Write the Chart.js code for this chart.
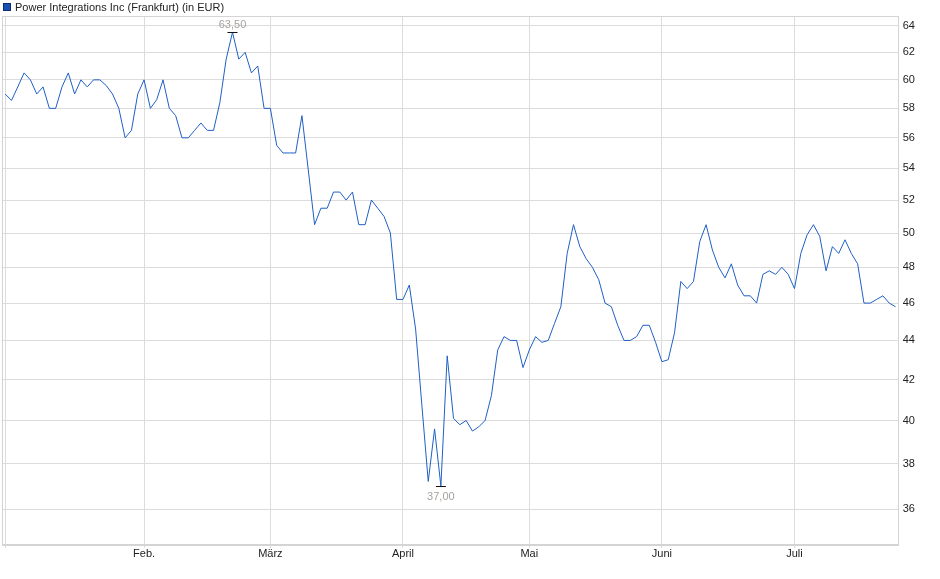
<!DOCTYPE html>
<html>
<head>
<meta charset="utf-8">
<title>Power Integrations Inc (Frankfurt)</title>
<script src="https://cdn.jsdelivr.net/npm/chart.js@4.4.1/dist/chart.umd.min.js"></script>
<style>
  html, body { margin: 0; padding: 0; background: #fff; }
  #wrap { position: relative; width: 940px; height: 579px; }
  #legend {
    position: absolute; left: 3px; top: 0; height: 13px;
    font: 11px "Liberation Sans", Arial, sans-serif; color: #222;
    display: flex; align-items: center; white-space: nowrap;
  }
  #legend .box {
    width: 6px; height: 6px; background: #1c50b0; border: 1px solid #0d2f70;
    margin-right: 4px;
  }
</style>
</head>
<body>
<div id="wrap">
  <div id="legend"><span class="box"></span>Power Integrations Inc (Frankfurt) (in EUR)</div>
  <canvas id="chart" width="940" height="579"></canvas>
</div>
<script>
// ── Closing prices, one per Frankfurt trading day (2 Jan – 23 Jul) ───────────
const PRICES = [
  59.0, 58.55, 59.5, 60.5, 60.0, 59.0, 59.5, 58.0, 58.0, 59.5,
  60.5, 59.0, 60.0, 59.5, 60.0, 60.0, 59.6, 59.0, 58.0, 56.0,
  56.5, 59.0, 60.0, 58.0, 58.6, 60.0, 58.0, 57.5, 56.0, 56.0,
  56.5, 57.0, 56.5, 56.5, 58.4, 61.5, 63.5, 61.5, 62.0, 60.5,
  61.0, 58.0, 58.0, 55.5, 55.0, 55.0, 55.0, 57.5, 53.9, 50.5,
  51.5, 51.5, 52.5, 52.5, 52.0, 52.5, 50.5, 50.5, 52.0, 51.5,
  51.0, 50.0, 46.2, 46.2, 47.0, 44.6, 40.7, 37.2, 39.6, 37.0,
  43.2, 40.1, 39.8, 40.0, 39.5, 39.7, 40.0, 41.2, 43.5, 44.2,
  44.0, 44.0, 42.6, 43.5, 44.2, 43.9, 44.0, 44.9, 45.8, 48.8,
  50.5, 49.2, 48.5, 48.0, 47.3, 46.0, 45.8, 44.8, 44.0, 44.0,
  44.2, 44.8, 44.8, 43.9, 42.9, 43.0, 44.4, 47.2, 46.8, 47.2,
  49.5, 50.5, 49.0, 48.0, 47.4, 48.2, 47.0, 46.4, 46.4, 46.0,
  47.6, 47.8, 47.6, 48.0, 47.6, 46.8, 48.8, 49.9, 50.5, 49.8,
  47.8, 49.2, 48.8, 49.6, 48.8, 48.2, 46.0, 46.0, 46.2, 46.4,
  46.0, 45.8,
];

// ── Axis ticks ───────────────────────────────────────────────────────────────
const MONTH_TICKS  = [0, 22, 42, 63, 83, 104, 125];   // first trading day of month
const MONTH_LABELS = ['', 'Feb.', 'März', 'April', 'Mai', 'Juni', 'Juli'];
const PRICE_TICKS  = [36, 38, 40, 42, 44, 46, 48, 50, 52, 54, 56, 58, 60, 62, 64];

const FONT = "'Liberation Sans', Arial, sans-serif";
const GRID = '#dcdcdc';
const LINE = '#1f5fc6';

const fmtDe = v => v.toFixed(2).replace('.', ',');

// ── Frame + high/low markers ─────────────────────────────────────────────────
const extremaMarks = {
  id: 'extremaMarks',
  afterDraw(chart) {
    const { ctx, chartArea: a, scales: { x, y } } = chart;
    ctx.save();
    ctx.strokeStyle = '#d4d4d4';
    ctx.lineWidth = 1;
    ctx.strokeRect(Math.round(a.left) + 0.5, Math.round(a.top) + 0.5,
                   Math.round(a.width) - 1, Math.round(a.height) - 1);

    const hi = PRICES.indexOf(Math.max(...PRICES));
    const lo = PRICES.indexOf(Math.min(...PRICES));
    ctx.font = '11px ' + FONT;
    ctx.textAlign = 'center';
    ctx.textBaseline = 'middle';
    [[hi, -8], [lo, 10]].forEach(([i, dy]) => {
      const px = x.getPixelForValue(i);
      const py = Math.round(y.getPixelForValue(PRICES[i])) + 0.5;
      ctx.strokeStyle = '#111';
      ctx.beginPath();
      ctx.moveTo(px - 5, py);
      ctx.lineTo(px + 5, py);
      ctx.stroke();
      ctx.fillStyle = '#a8a29c';
      ctx.fillText(fmtDe(PRICES[i]), px, py + dy);
    });
    ctx.restore();
  },
};

const ctx = document.getElementById('chart').getContext('2d');
new Chart(ctx, {
  type: 'line',
  data: {
    datasets: [{
      label: 'Power Integrations Inc (Frankfurt) (in EUR)',
      data: PRICES.map((v, i) => ({ x: i, y: v })),
      borderColor: LINE,
      borderWidth: 1,
      pointRadius: 0,
      tension: 0,
      fill: false,
    }],
  },
  options: {
    responsive: false,
    animation: false,
    devicePixelRatio: 1,
    layout: { padding: { left: 2, top: 16, right: 0, bottom: 0 } },
    plugins: { legend: { display: false }, tooltip: { enabled: false } },
    scales: {
      x: {
        type: 'linear',
        min: -0.5,
        max: PRICES.length - 0.5,
        afterBuildTicks: axis => { axis.ticks = MONTH_TICKS.map(v => ({ value: v })); },
        afterFit: axis => { axis.height = 34; },
        grid: { color: GRID, tickLength: 3, tickColor: GRID },
        border: { color: '#d4d4d4' },
        ticks: {
          autoSkip: false,
          maxRotation: 0,
          padding: -1,
          color: '#222',
          font: { family: FONT, size: 11 },
          callback: v => MONTH_LABELS[MONTH_TICKS.indexOf(v)] ?? '',
        },
      },
      y: {
        type: 'logarithmic',
        position: 'right',
        min: 34.49,
        max: 64.74,
        afterBuildTicks: axis => { axis.ticks = PRICE_TICKS.map(v => ({ value: v })); },
        afterFit: axis => { axis.width = 41.3; },
        grid: { color: GRID, drawTicks: false },
        border: { color: '#d4d4d4' },
        ticks: {
          padding: 4,
          color: '#222',
          font: { family: FONT, size: 11 },
          callback: v => String(v),
        },
      },
    },
  },
  plugins: [extremaMarks],
});
</script>
</body>
</html>
